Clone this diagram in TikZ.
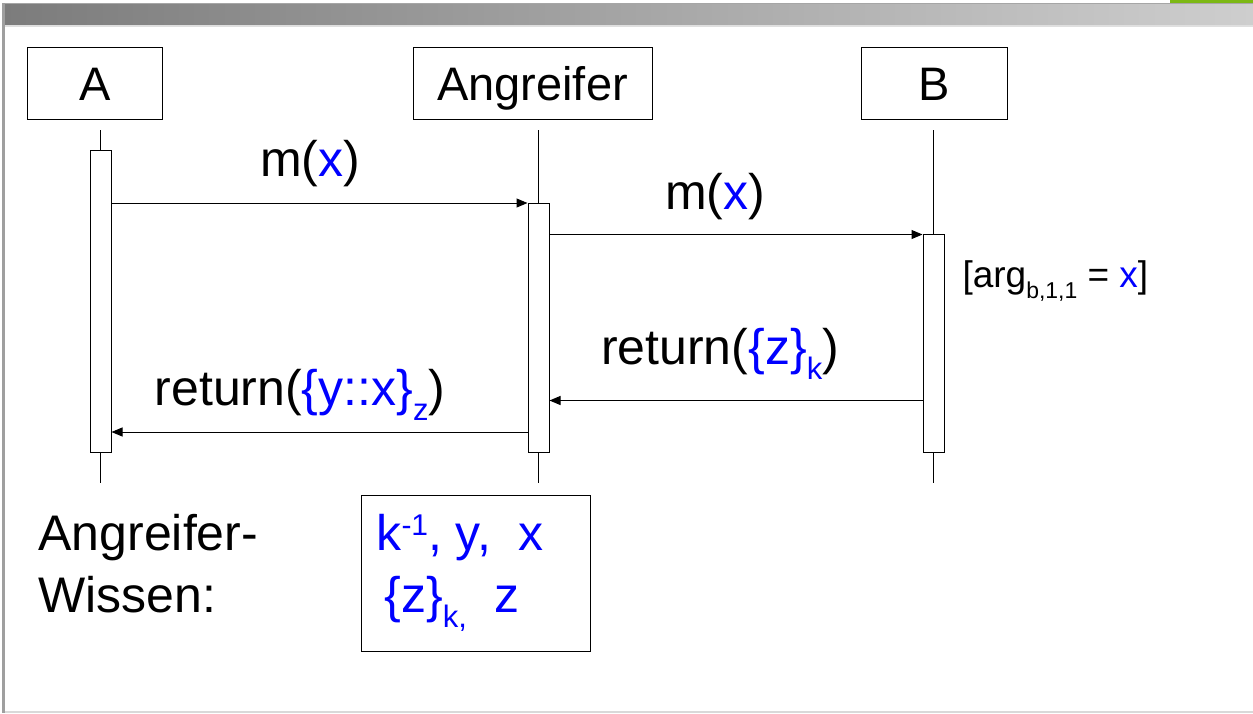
\documentclass[tikz,border=0pt]{standalone}
\usepackage{fontspec}
\setmainfont{Liberation Sans}
\usepackage{tikz}
\usetikzlibrary{arrows.meta,positioning}

\definecolor{kblue}{RGB}{0,0,255}
\definecolor{barleft}{RGB}{124,124,124}
\definecolor{barright}{RGB}{206,206,206}
\definecolor{tabgreen}{RGB}{124,184,20}
\newcommand{\kb}[1]{\textcolor{kblue}{#1}}
\newcommand{\bigfont}{\fontsize{50}{60}\selectfont}
\newcommand{\boxfont}{\fontsize{47}{56}\selectfont}
\newcommand{\smallfont}{\fontsize{37}{44}\selectfont}
% lowered index, as on the slide
\newcommand{\lsub}[1]{\raisebox{-0.3em}{\fontsize{0.62em}{0.62em}\selectfont #1}}
\newcommand{\hsup}[1]{\raisebox{0.3em}{\fontsize{0.6em}{0.6em}\selectfont #1}}

\begin{document}
\begin{tikzpicture}[x=1pt, y=-1pt, line width=1pt,
                    actor/.style={draw,minimum height=72pt,inner sep=0pt,text height=34pt,text depth=0pt,font=\boxfont},
                    act/.style={draw,fill=white,minimum width=21pt,inner sep=0pt},
                    msg/.style={-{Triangle[length=11pt,width=9pt]}},
                    lbl/.style={anchor=base,inner sep=0pt,font=\bigfont}]

  \useasboundingbox (0,0) rectangle (1253,713);

  % slide frame
  \shade[left color=barleft, right color=barright] (3,3) rectangle (1253,25);
  \draw[gray!70, line width=0.6pt] (3,3.3) -- (1253,3.3);
  \draw[gray!25, line width=1.5pt] (5,26) -- (1253,26);
  \fill[tabgreen] (1170,0) rectangle (1253,2.6);
  \fill[gray!75] (2,3) rectangle (5,713);
  \draw[gray!30, line width=1.5pt] (5,712) -- (1253,712);

  % actors
  \node[actor, minimum width=135pt] (a) at (95,83) {A};
  \node[actor, minimum width=239pt] (angr) at (532.5,83) {Angreifer};
  \node[actor, minimum width=146pt] (b) at (934,83) {B};

  % lifelines
  \draw (100.5,130) -- (100.5,483);
  \draw (538.5,130) -- (538.5,483);
  \draw (933.5,130) -- (933.5,483);

  % activations
  \node[act, minimum height=302pt] (actA) at (100.5,301) {};
  \node[act, minimum height=249pt] (actAngr) at (538.5,327.5) {};
  \node[act, minimum height=218pt] (actB) at (933.5,343) {};

  % messages
  \draw[msg] (actA.east |- 0,203) -- (actAngr.west |- 0,203);
  \node[lbl] (m1) at (310,176) {m(\kb{x})};

  \draw[msg] (actAngr.east |- 0,234.5) -- (actB.west |- 0,234.5);
  \node[lbl] (m2) at (715,209) {m(\kb{x})};

  \node[anchor=base west, inner sep=0pt, font=\smallfont] (arg) at (962,287)
    {[arg\lsub{b,1,1} = \kb{x}]};

  \draw[msg] (actB.west |- 0,400.5) -- (actAngr.east |- 0,400.5);
  \node[lbl] (r1) at (720,364) {return(\kb{\{z\}\lsub{k}})};

  \draw[msg] (actAngr.west |- 0,432) -- (actA.east |- 0,432);
  \node[lbl] (r2) at (300,405) {return(\kb{\{y::x\}\lsub{z}})};

  % knowledge of the attacker
  \node[anchor=base west, inner sep=0pt, font=\bigfont] (w1) at (38,550) {Angreifer-};
  \node[below=62pt of w1.base west, anchor=base west, inner sep=0pt, font=\bigfont] (w2) {Wissen:};

  \draw (361,495) rectangle (590,651);
  \node[anchor=base west, inner sep=0pt, font=\bigfont] (k1) at (376,550)
    {\kb{k\hsup{-1}, y,\ \ x}};
  \node[below=62pt of k1.base west, anchor=base west, inner sep=0pt, font=\bigfont] (k2)
    {\kb{\hspace{8pt}\{z\}\lsub{k,}\ \ z}};

\end{tikzpicture}
\end{document}
